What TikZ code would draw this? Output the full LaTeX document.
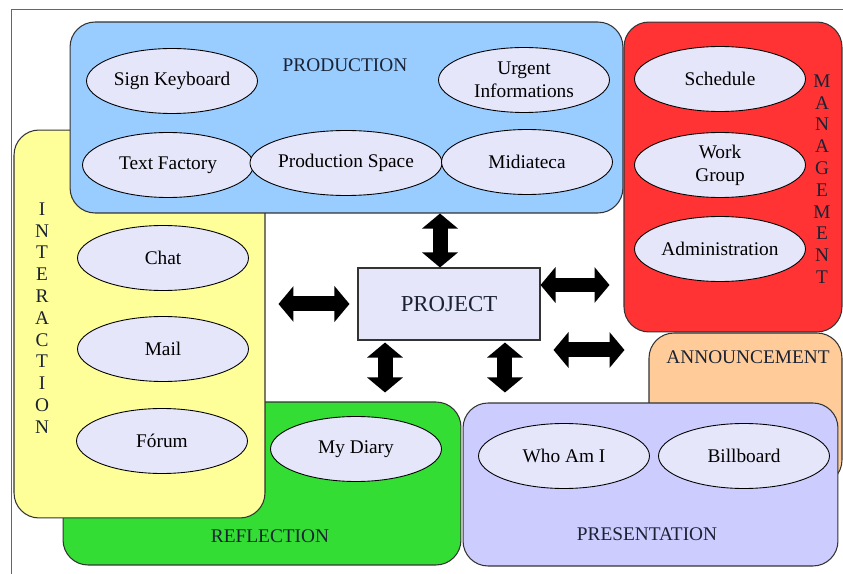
\documentclass[tikz,border=0pt]{standalone}
\usepackage{fontspec}
\setmainfont{Liberation Serif}
\usepackage{tikz}
\usetikzlibrary{arrows.meta,positioning,calc,shapes.geometric}
\definecolor{prodblue}{HTML}{99CCFF}
\definecolor{interyellow}{HTML}{FFFF99}
\definecolor{reflgreen}{HTML}{33DD33}
\definecolor{mgmtred}{HTML}{FF3333}
\definecolor{annorange}{HTML}{FFCC99}
\definecolor{presviolet}{HTML}{CCCCFF}
\definecolor{itemfill}{HTML}{E6E6FA}
\definecolor{labeltext}{HTML}{1A2233}

\begin{document}
\begin{tikzpicture}[
    x=0.02cm, y=-0.02cm,
    group/.style={draw=black!80, line width=0.6pt, rounded corners=0.5cm, inner sep=0pt},
    item/.style={ellipse, draw=black, line width=0.5pt, fill=itemfill, minimum width=3.42cm, minimum height=1.3cm, inner sep=0pt, align=center, font=\fontsize{11}{13}\selectfont},
    title/.style={font=\fontsize{11}{13}\selectfont, text=labeltext},
    vtitle/.style={align=center, font=\fontsize{11}{12.4}\selectfont, text=labeltext},
    biarrow/.style={{Triangle[length=0.3cm,width=0.7cm]}-{Triangle[length=0.3cm,width=0.7cm]}, line width=0.3cm, black}
]
\useasboundingbox (0,0) rectangle (843,574);
\draw[black!60, line width=0.5pt] (11,574) -- (11,9) -- (843,9);

% areas
\node[group, fill=reflgreen, minimum width=7.96cm, minimum height=3.26cm] (reflection) at (262,483.5) {};
\node[group, fill=interyellow, minimum width=5.02cm, minimum height=7.76cm] (interaction) at (139.5,324) {};
\node[group, fill=prodblue, minimum width=11.06cm, minimum height=3.82cm] (production) at (346.5,117.5) {};
\node[group, fill=annorange, minimum width=3.86cm, minimum height=3.04cm] (announcement) at (745.5,409) {};
\node[group, fill=presviolet, minimum width=7.5cm, minimum height=3.26cm] (presentation) at (650.5,484.5) {};
\node[group, fill=mgmtred, minimum width=4.36cm, minimum height=6.2cm] (management) at (733,177) {};

\node[title] at (345,65) {PRODUCTION};
\node[title] at (270,536) {REFLECTION};
\node[title] at (647,534) {PRESENTATION};
\node[title] at (748,357) {ANNOUNCEMENT};
\node[vtitle] at (42,318) {I\\N\\T\\E\\R\\A\\C\\T\\I\\O\\N};
\node[vtitle] at (822,179) {M\\A\\N\\A\\G\\E\\M\\E\\N\\T};

% items
\node[item] (signkb) at (172,81) {Sign Keyboard};
\node[item] (textfac) at (168,165) {Text Factory};
\node[item] (prodspace) at (346,163) {Production Space};
\node[item] (urgent) at (524,80) {Urgent\\Informations};
\node[item] (midia) at (527,162) {Midiateca};
\node[item] (schedule) at (720,79) {Schedule};
\node[item] (workgroup) at (720,165) {Work\\Group};
\node[item] (admin) at (720,249) {Administration};
\node[item] (chat) at (163,258) {Chat};
\node[item] (mail) at (163,349) {Mail};
\node[item] (forum) at (162,441) {Fórum};
\node[item] (diary) at (356,449) {My Diary};
\node[item] (whoami) at (564,456) {Who Am I};
\node[item] (billboard) at (744,456) {Billboard};

\node[draw=black!80, line width=0.6pt, fill=itemfill, minimum width=3.64cm, minimum height=1.44cm, font=\fontsize{13}{15}\selectfont, text=labeltext] (project) at (449,304) {PROJECT};

\draw[biarrow] ([xshift=-0.18cm]project.north |- production.south) -- ([xshift=-0.18cm]project.north);
\draw[biarrow, shorten <=0.26cm, shorten >=0.16cm] (interaction.east |- project.west) -- (project.west);
\draw[biarrow, shorten >=0.28cm] ([yshift=0.38cm]project.east) -- ([yshift=0.38cm]project.east -| management.west);
\draw[biarrow, shorten <=0.26cm, shorten >=0.48cm] ([yshift=-0.92cm]project.east) -- ([yshift=-0.92cm]project.east -| announcement.west);
\draw[biarrow, shorten <=0.04cm, shorten >=0.18cm] ([xshift=-1.28cm]project.south) -- ([xshift=-1.28cm]project.south |- reflection.north);
\draw[biarrow, shorten <=0.04cm, shorten >=0.2cm] ([xshift=1.12cm]project.south) -- ([xshift=1.12cm]project.south |- presentation.north);

\end{tikzpicture}
\end{document}
